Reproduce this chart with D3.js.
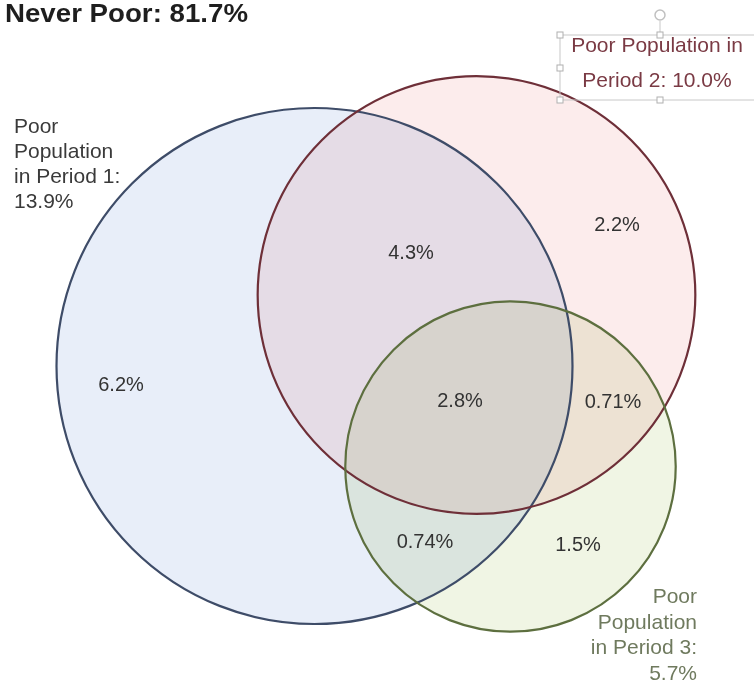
<!DOCTYPE html>
<html><head><meta charset="utf-8">
<script src="https://cdn.jsdelivr.net/npm/d3@7"></script>
<style>
html,body{margin:0;padding:0;background:#fff;}
svg{display:block;font-family:"Liberation Sans",Arial,sans-serif;}
</style></head>
<body><svg id="c" width="754" height="686"></svg>
<script>
// ---- data ----
const title = "Never Poor: 81.7%";
const setNames = ["Period 1", "Period 2", "Period 3"];
const setTotals = [13.9, 10.0, 5.7];
const regionLabels = ["6.2%", "2.2%", "1.5%", "4.3%", "0.74%", "0.71%", "2.8%"];
const regionSets = [["Period 1"], ["Period 2"], ["Period 3"], ["Period 1","Period 2"], ["Period 1","Period 3"], ["Period 2","Period 3"], ["Period 1","Period 2","Period 3"]];

// ---- layout ----
const centers = [[314.5, 366], [476.5, 295], [510.5, 466.5]];
const fills = ["#e8eef9", "#fcecec", "#f0f5e4"];
const strokes = ["#3e4c68", "#6e2f38", "#5d6f3f"];
const regionPos = [[121,391],[617,231],[578,551],[411,259],[425,548],[613,408],[460,407]];

const svg = d3.select("#c");
const r = d3.scaleSqrt().domain([0, 13.9]).range([0, 258]);

const g = svg.append("g");
g.selectAll("circle.fill").data(setTotals).join("circle")
  .attr("class","fill")
  .attr("cx",(d,i)=>centers[i][0]).attr("cy",(d,i)=>centers[i][1])
  .attr("r",d=>r(d))
  .attr("fill",(d,i)=>fills[i])
  .style("mix-blend-mode","multiply");
g.selectAll("circle.edge").data(setTotals).join("circle")
  .attr("class","edge")
  .attr("cx",(d,i)=>centers[i][0]).attr("cy",(d,i)=>centers[i][1])
  .attr("r",d=>r(d))
  .attr("fill","none")
  .attr("stroke",(d,i)=>strokes[i]).attr("stroke-width",2.2);

svg.selectAll("text.region").data(regionLabels).join("text")
  .attr("class","region")
  .attr("x",(d,i)=>regionPos[i][0]).attr("y",(d,i)=>regionPos[i][1])
  .attr("text-anchor","middle").attr("font-size",20).attr("fill","#333")
  .text(d=>d);

svg.append("text").attr("x",5).attr("y",22).attr("font-size",25).attr("font-weight","bold")
  .attr("fill","#1e1e1e").attr("textLength",243).attr("lengthAdjust","spacingAndGlyphs").text(title);

// set labels
const fmt = d3.format(".1f");
const lab1 = svg.append("text").attr("font-size",21).attr("fill","#3a3a3a");
["Poor","Population","in " + setNames[0] + ":", fmt(setTotals[0]) + "%"].forEach((t,i)=>{
  lab1.append("tspan").attr("x",14).attr("y",133 + i*25).text(t);
});
const lab3 = svg.append("text").attr("font-size",21).attr("fill","#6f7a5e").attr("text-anchor","end");
["Poor","Population","in " + setNames[2] + ":", fmt(setTotals[2]) + "%"].forEach((t,i)=>{
  lab3.append("tspan").attr("x",697).attr("y",603 + i*25.5).text(t);
});

// selected text box for period 2
const box = svg.append("g");
box.append("rect").attr("x",560).attr("y",35).attr("width",200).attr("height",65)
  .attr("fill","none").attr("stroke","#c8c8c8").attr("stroke-width",1);
box.append("line").attr("x1",660).attr("x2",660).attr("y1",21).attr("y2",35).attr("stroke","#c8c8c8");
box.append("circle").attr("cx",660).attr("cy",15).attr("r",5).attr("fill","#fff").attr("stroke","#c0c0c0").attr("stroke-width",1.5);
[[560,35],[660,35],[560,68],[560,100],[660,100]].forEach(p=>{
  box.append("rect").attr("x",p[0]-3).attr("y",p[1]-3).attr("width",6).attr("height",6)
    .attr("fill","#fff").attr("stroke","#b0b0b0");
});
const lab2 = svg.append("text").attr("font-size",21).attr("fill","#7a3a44").attr("text-anchor","middle");
["Poor Population in", setNames[1] + ": " + fmt(setTotals[1]) + "%"].forEach((t,i)=>{
  lab2.append("tspan").attr("x",657).attr("y",52 + i*35).text(t);
});
</script></body></html>
